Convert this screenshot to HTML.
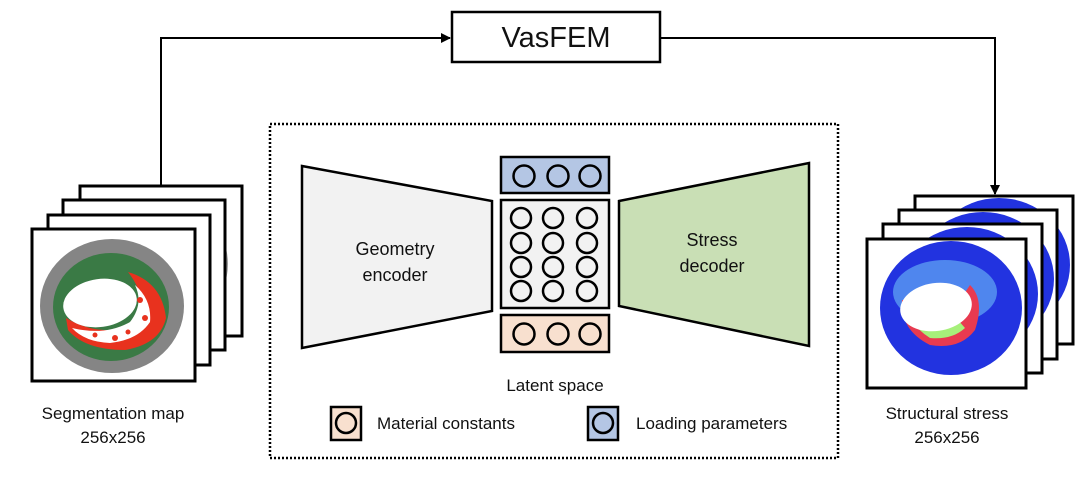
<!DOCTYPE html>
<html><head><style>
body{margin:0;background:#fff;width:1080px;height:477px;overflow:hidden}
svg{display:block}
text{font-family:"Liberation Sans",sans-serif;fill:#111}
</style></head><body>
<svg width="1080" height="477" viewBox="0 0 1080 477">
<defs>
<marker id="ah" markerWidth="10" markerHeight="10" refX="9" refY="5" orient="auto" markerUnits="userSpaceOnUse"><path d="M0,0 L10,5 L0,10 z" fill="#000"/></marker>
<clipPath id="cl1"><rect x="80" y="186" width="162" height="150"/></clipPath>
<clipPath id="cl2"><rect x="63" y="200" width="162" height="150"/></clipPath>
<clipPath id="cl3"><rect x="48" y="215" width="162" height="150"/></clipPath>
<clipPath id="cr1"><rect x="915" y="196" width="158" height="148"/></clipPath>
<clipPath id="cr2"><rect x="899" y="210" width="158" height="149"/></clipPath>
<clipPath id="cr3"><rect x="883" y="224" width="159" height="149"/></clipPath>
<g id="segback">
<ellipse cx="0" cy="0" rx="68" ry="64" fill="#9a9a9a"/>
<ellipse cx="0" cy="1" rx="56" ry="52" fill="#3a7a45"/>
</g>
<g id="strback">
<ellipse cx="0" cy="0" rx="71" ry="67" fill="#2233e0"/>
</g>
</defs>
<!-- VasFEM -->
<rect x="452" y="12" width="208" height="50" fill="#fff" stroke="#000" stroke-width="2.5"/>
<text x="556" y="47" font-size="29" text-anchor="middle">VasFEM</text>
<polyline points="161,186 161,38 450,38" fill="none" stroke="#000" stroke-width="2" marker-end="url(#ah)"/>
<polyline points="660,38 995,38 995,194" fill="none" stroke="#000" stroke-width="2" marker-end="url(#ah)"/>

<!-- left stack -->
<g stroke="#000" stroke-width="3">
<rect x="80" y="186" width="162" height="150" fill="#fff"/>
<g clip-path="url(#cl1)"><use href="#segback" transform="translate(160,264)" stroke="none"/></g>
<rect x="80" y="186" width="162" height="150" fill="none"/>
<rect x="63" y="200" width="162" height="150" fill="#fff"/>
<g clip-path="url(#cl2)"><use href="#segback" transform="translate(143,278)" stroke="none"/></g>
<rect x="63" y="200" width="162" height="150" fill="none"/>
<rect x="48" y="215" width="162" height="150" fill="#fff"/>
<g clip-path="url(#cl3)"><use href="#segback" transform="translate(128,293)" stroke="none"/></g>
<rect x="48" y="215" width="162" height="150" fill="none"/>
<rect x="32" y="229" width="163" height="152" fill="#fff"/>
</g>
<ellipse cx="112" cy="306" rx="72" ry="67" fill="#858585"/>
<ellipse cx="111" cy="307" rx="58" ry="54" fill="#3a7a45"/>
<path d="M128,272 Q162,282 166,318 Q160,344 125,350 Q85,350 68,330 L66,318 Q100,338 135,325 Q150,300 128,272z" fill="#e8321e"/>
<path d="M135,285 Q152,300 150,322 Q138,340 110,343 Q85,342 72,328 Q105,336 130,322 Q144,304 135,285z" fill="#fff"/>
<g fill="#e8321e"><circle cx="140" cy="300" r="3"/><circle cx="115" cy="338" r="3"/><circle cx="95" cy="335" r="2.5"/><circle cx="145" cy="318" r="3"/><circle cx="128" cy="332" r="2.5"/></g>
<ellipse cx="100" cy="303" rx="37" ry="24" fill="#fff" transform="rotate(-8 100 303)"/>

<!-- right stack -->
<g stroke="#000" stroke-width="3">
<rect x="915" y="196" width="158" height="148" fill="#fff"/>
<g clip-path="url(#cr1)"><use href="#strback" transform="translate(999,265)" stroke="none"/></g>
<rect x="915" y="196" width="158" height="148" fill="none"/>
<rect x="899" y="210" width="158" height="149" fill="#fff"/>
<g clip-path="url(#cr2)"><use href="#strback" transform="translate(983,279)" stroke="none"/></g>
<rect x="899" y="210" width="158" height="149" fill="none"/>
<rect x="883" y="224" width="159" height="149" fill="#fff"/>
<g clip-path="url(#cr3)"><use href="#strback" transform="translate(967,294)" stroke="none"/></g>
<rect x="883" y="224" width="159" height="149" fill="none"/>
<rect x="867" y="239" width="159" height="149" fill="#fff"/>
</g>
<ellipse cx="951" cy="308" rx="71" ry="67" fill="#2233e0"/>
<ellipse cx="945" cy="292" rx="52" ry="32" fill="#4f86ee"/>
<path d="M902,300 Q900,330 930,345 Q960,350 975,330 Q985,300 970,285 L960,300 Q965,325 940,335 Q915,330 910,300z" fill="#e83a50"/>
<path d="M905,298 Q905,322 930,338 Q952,340 965,328 L958,320 Q945,330 930,328 Q912,318 912,298z" fill="#a6f07a"/>
<ellipse cx="936" cy="307" rx="36" ry="24" fill="#fff" transform="rotate(-8 936 307)"/>

<!-- dotted box -->
<rect x="270" y="124" width="568" height="334" fill="none" stroke="#000" stroke-width="2.5" stroke-dasharray="2,2"/>
<polygon points="302,166 492,201 492,311 302,348" fill="#f2f2f2" stroke="#000" stroke-width="2.5"/>
<polygon points="619,201 809,163 809,346 619,306" fill="#c9dfb5" stroke="#000" stroke-width="2.5"/>
<text x="395" y="255" font-size="18" text-anchor="middle">Geometry</text>
<text x="395" y="281" font-size="18" text-anchor="middle">encoder</text>
<text x="712" y="246" font-size="18" text-anchor="middle">Stress</text>
<text x="712" y="272" font-size="18" text-anchor="middle">decoder</text>

<g stroke="#000" stroke-width="2.5">
<rect x="501" y="157" width="108" height="36" fill="#b4c6e4"/>
<rect x="501" y="200" width="108" height="108" fill="#f2f2f2"/>
<rect x="501" y="315" width="108" height="37" fill="#f8e0cf"/>
</g>
<g fill="none" stroke="#000" stroke-width="2.5">
<circle cx="524" cy="176" r="10.5"/><circle cx="558" cy="176" r="10.5"/><circle cx="590" cy="176" r="10.5"/>
<circle cx="524" cy="334" r="10.5"/><circle cx="558" cy="334" r="10.5"/><circle cx="590" cy="334" r="10.5"/>
<circle cx="521" cy="218" r="10"/><circle cx="553" cy="218" r="10"/><circle cx="587" cy="218" r="10"/>
<circle cx="521" cy="243" r="10"/><circle cx="553" cy="243" r="10"/><circle cx="587" cy="243" r="10"/>
<circle cx="521" cy="267" r="10"/><circle cx="553" cy="267" r="10"/><circle cx="587" cy="267" r="10"/>
<circle cx="521" cy="291" r="10"/><circle cx="553" cy="291" r="10"/><circle cx="587" cy="291" r="10"/>
</g>
<text x="555" y="391" font-size="17" text-anchor="middle">Latent space</text>
<rect x="331" y="407" width="30" height="33" fill="#f8e0cf" stroke="#000" stroke-width="2.5"/>
<circle cx="346" cy="423" r="10" fill="none" stroke="#000" stroke-width="2.5"/>
<text x="377" y="429" font-size="17">Material constants</text>
<rect x="588" y="407" width="30" height="33" fill="#b4c6e4" stroke="#000" stroke-width="2.5"/>
<circle cx="603" cy="423" r="10" fill="none" stroke="#000" stroke-width="2.5"/>
<text x="636" y="429" font-size="17">Loading parameters</text>

<text x="113" y="419" font-size="17" text-anchor="middle">Segmentation map</text>
<text x="113" y="443" font-size="17" text-anchor="middle">256x256</text>
<text x="947" y="419" font-size="17" text-anchor="middle">Structural stress</text>
<text x="947" y="443" font-size="17" text-anchor="middle">256x256</text>
</svg>
</body></html>
